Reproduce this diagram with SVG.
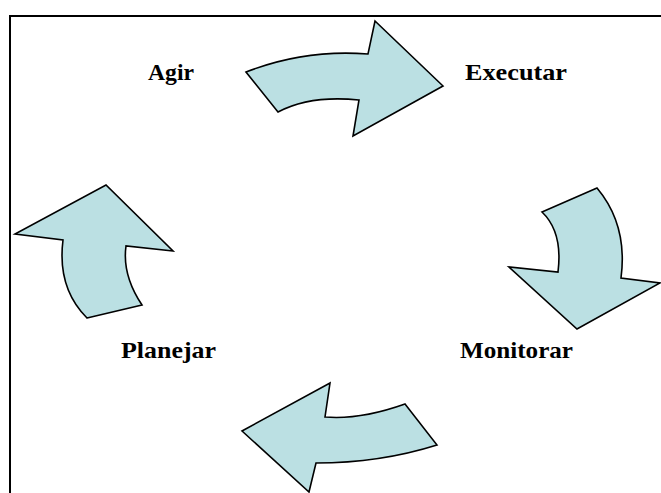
<svg xmlns="http://www.w3.org/2000/svg" width="661" height="493" viewBox="0 0 661 493">
  <style>
    .arrow { fill: #bbe0e3; stroke: #000; stroke-width: 1.6; stroke-linejoin: miter; }
    .label { font-family: "Liberation Serif", "Times New Roman", serif; font-weight: bold; font-size: 24px; fill: #000; }
  </style>
  <rect width="661" height="493" fill="#fff"/>
  <!-- frame: only the top and left edges fall inside the canvas -->
  <path d="M10,500 L10,16 L670,16" fill="none" stroke="#000" stroke-width="2"/>

  <g id="connectors">
    <path id="arrow-agir-executar" class="arrow" d="M246,72 Q305,49 368,54 L375,21 L443,86 L353,136 L359,100 Q310,95 278,112 Z"/>
    <path id="arrow-executar-monitorar" class="arrow" d="M542,212 L597,188 Q628,225 621,278 L660,283 L577,329 L509,267 L558,272 Q563,232 542,212 Z"/>
    <path id="arrow-monitorar-planejar" class="arrow" d="M405,404 L437,445 Q380,463 316,463 L309,492 L242,431 L330,383 L325,417 Q360,420 405,404 Z"/>
    <path id="arrow-planejar-agir" class="arrow" d="M87,318 L142,305 Q122,275 126,246 L173,251 L106,185 L15,234 L63,240 Q57,288 87,318 Z"/>
  </g>

  <g id="node-agir"><text class="label" x="148" y="80" textLength="46" lengthAdjust="spacingAndGlyphs">Agir</text></g>
  <g id="node-executar"><text class="label" x="465" y="80" textLength="102" lengthAdjust="spacingAndGlyphs">Executar</text></g>
  <g id="node-monitorar"><text class="label" x="460" y="358" textLength="113" lengthAdjust="spacingAndGlyphs">Monitorar</text></g>
  <g id="node-planejar"><text class="label" x="121" y="358" textLength="95" lengthAdjust="spacingAndGlyphs">Planejar</text></g>
</svg>
